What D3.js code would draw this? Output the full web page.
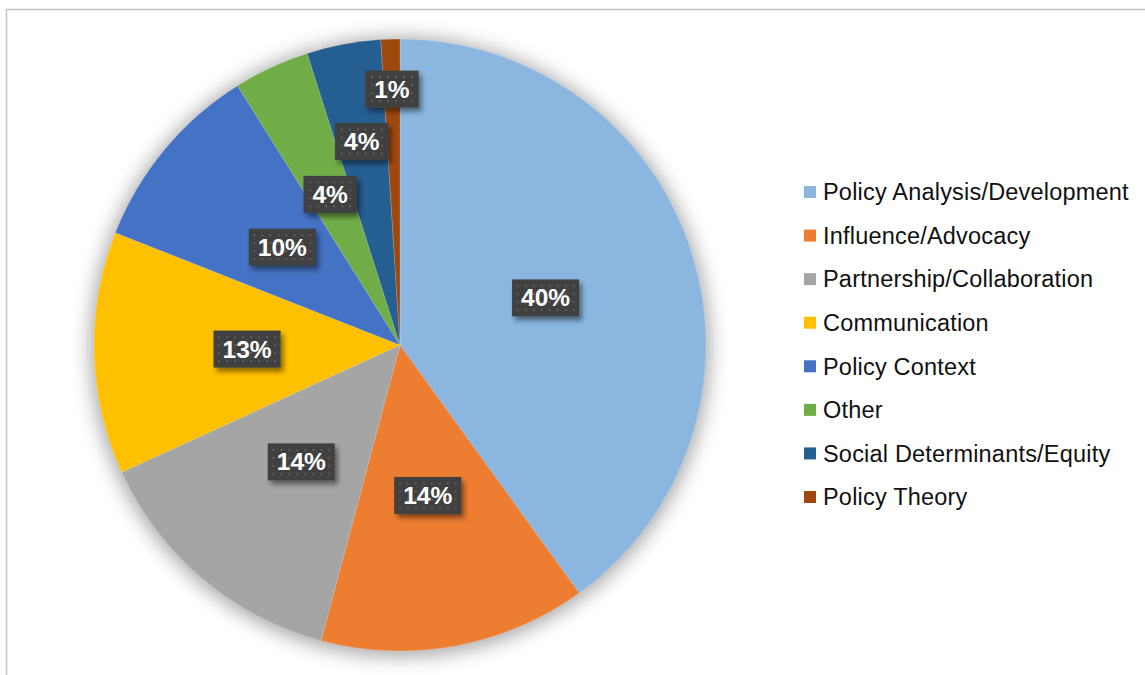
<!DOCTYPE html>
<html lang="en">
<head>
    <meta charset="UTF-8">
    <title>Policy topics pie</title>
    <script src="https://cdn.jsdelivr.net/npm/d3@7"></script>
    <style>
        body { margin: 0; background: #fff; }
        text { font-family: "Liberation Sans", Arial, Helvetica, sans-serif; }
        .legend text { font-size: 23.5px; fill: #111; letter-spacing: 0.2px; }
        .lbl text { font-size: 24.5px; font-weight: bold; fill: #fff; }
    </style>
</head>
<body>
<svg width="1145" height="675"></svg>

<script>
    // values (share of mentions, in %)
    const categories = ["Policy Analysis/Development", "Influence/Advocacy", "Partnership/Collaboration",
                        "Communication", "Policy Context", "Other", "Social Determinants/Equity", "Policy Theory"];
    const values = [40.0, 14.1, 14.0, 12.8, 10.1, 4.0, 3.9, 1.0];
    const colors = ["#8AB6E0", "#ED7D31", "#A5A5A5", "#FFC000", "#4472C4", "#70AD47", "#255E91", "#9E480E"];

    const data = categories.map((c, i) => ({name: c, value: values[i], color: colors[i]}));
    const total = d3.sum(values);

    const svg = d3.select("svg");
    const cx = 400, cy = 345, R = 306;

    const defs = svg.append("defs");

    // soft glow round the pie
    const glow = defs.append("filter").attr("id", "glow")
        .attr("x", "-20%").attr("y", "-20%").attr("width", "140%").attr("height", "140%");
    glow.append("feGaussianBlur").attr("stdDeviation", 10);

    // label box shadow
    const sh = defs.append("filter").attr("id", "boxShadow")
        .attr("x", "-30%").attr("y", "-30%").attr("width", "160%").attr("height", "170%");
    sh.append("feDropShadow").attr("dx", 3).attr("dy", 4).attr("stdDeviation", 2.5)
        .attr("flood-color", "#000").attr("flood-opacity", 0.45);

    // dotted fill of the label boxes
    const pat = defs.append("pattern").attr("id", "dots")
        .attr("patternUnits", "userSpaceOnUse").attr("width", 8).attr("height", 8);
    pat.append("rect").attr("width", 8).attr("height", 8).attr("fill", "#404040");
    pat.append("rect").attr("x", 3).attr("y", 3).attr("width", 2).attr("height", 2).attr("fill", "#5c5c5c");

    // frame
    svg.append("path")
       .attr("d", "M6.5,675 V9.5 H1145")
       .attr("fill", "none").attr("stroke", "#c4c4c4").attr("stroke-width", 1.5);

    const pie = d3.pie().sort(null).value(d => d.value);
    const arcs = pie(data);
    const arc = d3.arc().innerRadius(0).outerRadius(R);

    const g = svg.append("g").attr("transform", `translate(${cx},${cy})`);

    g.append("circle")
        .attr("r", R + 3).attr("cy", 2)
        .attr("fill", "#000").attr("opacity", 0.36)
        .attr("filter", "url(#glow)");

    g.selectAll("path.slice")
        .data(arcs)
        .join("path").attr("class", "slice")
          .attr("d", arc)
          .attr("fill", d => d.data.color)
          .attr("stroke", "rgba(255,255,255,0.35)")
          .attr("stroke-width", 0.5);

    // labels: start half-way out, push outward until clear of earlier labels
    const boxH = 37, pad = 9, gap = 15;
    const placed = [];
    const lbl = g.append("g").attr("class", "lbl");

    arcs.forEach(d => {
        const t = Math.round(d.data.value / total * 100) + "%";
        const grp = lbl.append("g");
        const rect = grp.append("rect");
        const txt = grp.append("text").text(t)
            .attr("text-anchor", "middle").attr("dy", "0.35em");
        const w = txt.node().getComputedTextLength() + pad * 2;
        const mid = (d.startAngle + d.endAngle) / 2;
        let r = R * 0.5, box;
        for (; r < R; r += 1) {
            const x = Math.sin(mid) * r, y = -Math.cos(mid) * r;
            box = {x0: x - w / 2, x1: x + w / 2, y0: y - boxH / 2, y1: y + boxH / 2, x, y};
            const hit = placed.some(b => box.x0 < b.x1 + gap && box.x1 + gap > b.x0 &&
                                         box.y0 < b.y1 + gap && box.y1 + gap > b.y0);
            if (!hit) break;
        }
        placed.push(box);
        grp.attr("transform", `translate(${box.x},${box.y})`);
        rect.attr("x", -w / 2).attr("y", -boxH / 2).attr("width", w).attr("height", boxH)
            .attr("fill", "url(#dots)").attr("filter", "url(#boxShadow)");
    });

    // legend
    const ly = d3.scalePoint().domain(categories).range([192, 497]);
    const leg = svg.append("g").attr("class", "legend")
        .selectAll("g").data(data).join("g")
          .attr("transform", d => `translate(804,${ly(d.name)})`);
    leg.append("rect").attr("x", 0).attr("y", -6).attr("width", 12).attr("height", 12)
        .attr("fill", d => d.color);
    leg.append("text").attr("x", 19).attr("dy", "0.35em").text(d => d.name);
</script>
</body>
</html>
